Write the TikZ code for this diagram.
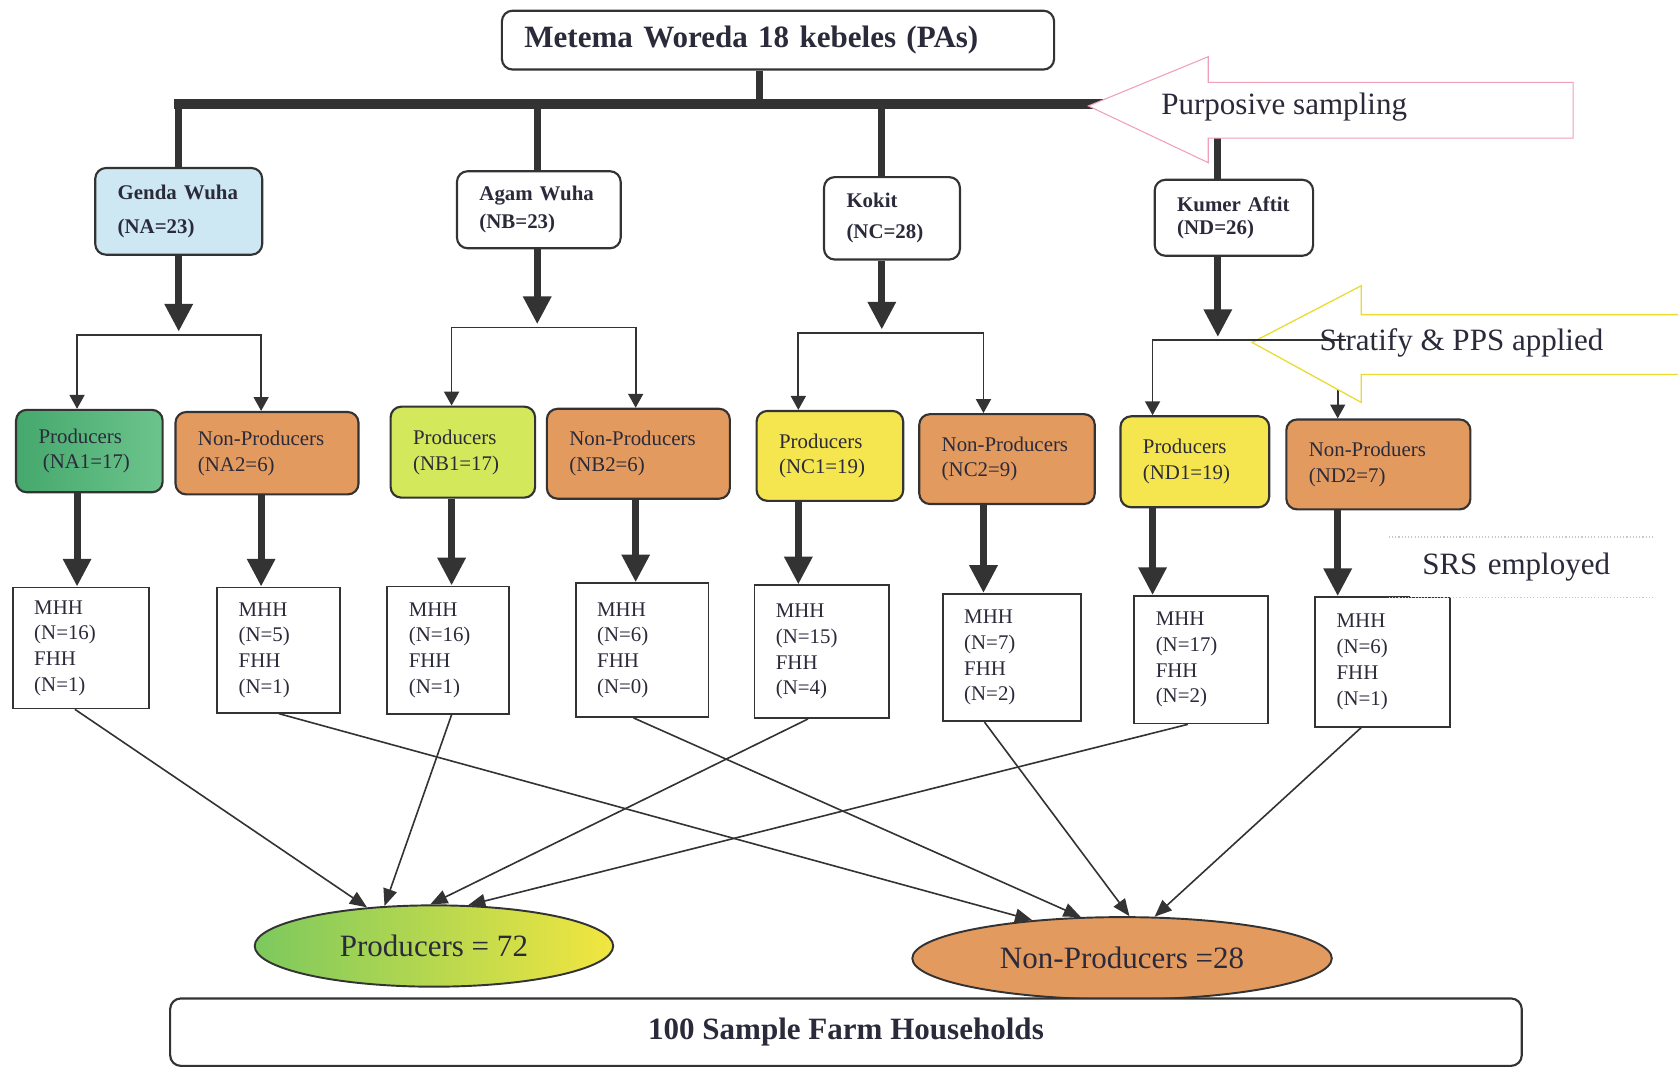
\documentclass[tikz,border=0pt]{standalone}
\usepackage{fontspec}
\setmainfont{Liberation Serif}
\usetikzlibrary{arrows.meta,shapes.geometric}
\definecolor{ink}{HTML}{2A2A3A}
\definecolor{ln}{HTML}{333333}
\definecolor{blu}{HTML}{CDE8F2}
\definecolor{grnA}{HTML}{45A86C}
\definecolor{grnB}{HTML}{6CC48C}
\definecolor{org}{HTML}{E39A5F}
\definecolor{ygr}{HTML}{D4E85C}
\definecolor{yel}{HTML}{F5E54E}
\definecolor{pnk}{HTML}{F0A0B8}
\definecolor{ylo}{HTML}{E8DC30}
\definecolor{elg}{HTML}{7CC95E}
\definecolor{ely}{HTML}{F2E640}
\definecolor{dotc}{HTML}{C8C8C8}
\begin{document}
\begin{tikzpicture}[x=1pt,y=-1pt,
 big/.style={font=\fontsize{29}{34}\selectfont},
 bigb/.style={font=\fontsize{29}{34}\selectfont\bfseries},
 sm/.style={font=\fontsize{19.5}{24}\selectfont},
 smb/.style={font=\fontsize{19.5}{24}\selectfont\bfseries},
 rbox/.style={draw=ln, line width=2pt, rounded corners=10pt, text=ink, inner xsep=21pt, inner ysep=0pt, align=left},
 sbox/.style={draw=ln, line width=1.7pt, fill=white, text=ink, inner xsep=20pt, inner ysep=0pt, align=left, sm},
 bar/.style={draw=ln, line width=9pt},
 drop/.style={draw=ln, line width=6.5pt},
 thk/.style={draw=ln, line width=6.5pt, -{Triangle[width=25pt,length=26pt]}},
 brk/.style={draw=ln, line width=1.6pt, -{Triangle[width=14pt,length=13pt]}},
 con/.style={draw=ln, line width=1.5pt, -{Triangle[width=13pt,length=16pt]}},
]
\useasboundingbox (0,0) rectangle (1568,1000);

% top
\node[rbox, bigb, fill=white, minimum width=514pt, text width=474pt, minimum height=55pt] (tb) at (727,37.5) {Metema Woreda 18 kebeles (PAs)};

% level 2
\node[rbox, smb, fill=blu, minimum width=156pt, text width=114pt, minimum height=81pt] (ga) at (167,197.5) {Genda Wuha\\[8pt](NA=23)};
\node[rbox, smb, fill=white, minimum width=153pt, text width=111pt, minimum height=72pt] (ab) at (503.5,196) {Agam Wuha\\[2pt](NB=23)};
\node[rbox, smb, fill=white, minimum width=127pt, text width=85pt, minimum height=77pt] (kk) at (833.5,204) {Kokit\\[5pt](NC=28)};
\node[rbox, smb, fill=white, minimum width=148pt, text width=106pt, minimum height=71pt] (ka) at (1153,203.5) {Kumer Aftit\\[-2pt](ND=26)};

% level 3
\node[rbox, sm, left color=grnA, right color=grnB, minimum width=137pt, text width=95pt, minimum height=77pt] (pa) at (83.5,421.5) {Producers\\\hspace*{4pt}(NA1=17)};
\node[rbox, sm, fill=org, minimum width=171pt, text width=129pt, minimum height=77pt] (na) at (249.5,423.5) {Non-Producers\\(NA2=6)};
\node[rbox, sm, fill=ygr, minimum width=135pt, text width=93pt, minimum height=85pt] (pb) at (432.5,422.5) {Producers\\(NB1=17)};
\node[rbox, sm, fill=org, minimum width=171pt, text width=129pt, minimum height=84pt] (nb) at (596.5,424) {Non-Producers\\(NB2=6)};
\node[rbox, sm, fill=yel, minimum width=137pt, text width=95pt, minimum height=84pt] (pc) at (775.5,426) {Producers\\(NC1=19)};
\node[rbox, sm, fill=org, minimum width=164pt, text width=122pt, minimum height=84pt] (nc) at (941,429) {Non-Producers\\(NC2=9)};
\node[rbox, sm, fill=yel, minimum width=139pt, text width=97pt, minimum height=85pt] (pd) at (1116.5,431.5) {Producers\\(ND1=19)};
\node[rbox, sm, fill=org, minimum width=172pt, text width=130pt, minimum height=84pt] (nd) at (1288,434) {Non-Produers\\(ND2=7)};

% level 4
\node[sbox, minimum width=127pt, text width=87pt, minimum height=113pt] (m1) at (75.5,605.5) {MHH\\(N=16)\\FHH\\(N=1)};
\node[sbox, minimum width=115pt, text width=75pt, minimum height=117pt] (m2) at (260.5,607.5) {MHH\\(N=5)\\FHH\\(N=1)};
\node[sbox, minimum width=114pt, text width=74pt, minimum height=119pt] (m3) at (419,607.5) {MHH\\(N=16)\\FHH\\(N=1)};
\node[sbox, minimum width=124pt, text width=84pt, minimum height=125pt] (m4) at (600,607.5) {MHH\\(N=6)\\FHH\\(N=0)};
\node[sbox, minimum width=126pt, text width=86pt, minimum height=124pt] (m5) at (768,609) {MHH\\(N=15)\\FHH\\(N=4)};
\node[sbox, minimum width=129pt, text width=89pt, minimum height=119pt] (m6) at (945.5,614.5) {MHH\\(N=7)\\FHH\\(N=2)};
\node[sbox, minimum width=125pt, text width=85pt, minimum height=119pt] (m7) at (1122.5,616.5) {MHH\\(N=17)\\FHH\\(N=2)};
\node[sbox, minimum width=126pt, text width=86pt, minimum height=121pt] (m8) at (1292,618.5) {MHH\\(N=6)\\FHH\\(N=1)};

% SRS label
\node[big, text=ink, fill=white, inner xsep=11pt, inner ysep=0pt, minimum width=227pt, minimum height=56pt, text width=205pt, align=left] (srs) at (1431.5,530) {SRS employed};
\draw[dotc, dotted, line width=1pt] ([xshift=-20pt]srs.north west) -- (srs.north east);
\draw[dotc, dotted, line width=1pt] ([xshift=-20pt]srs.south west) -- (srs.south east);

% ellipses and bottom
\node[ellipse, draw=ln, line width=1.8pt, left color=elg, right color=ely, minimum width=335pt, minimum height=76pt, inner sep=0pt, big, text=ink] (pe) at (405.5,884) {Producers = 72};
\node[ellipse, draw=ln, line width=1.8pt, fill=org, minimum width=392pt, minimum height=77pt, inner sep=0pt, big, text=ink] (ne) at (1048.5,895.5) {Non-Producers =28};
\node[rbox, bigb, fill=white, minimum width=1263pt, minimum height=63pt, align=center] (bt) at (790.5,964.5) {100 Sample Farm Households};

% bar and drops
\coordinate (jL) at (167,97);
\coordinate (jT) at (710,97);
\coordinate (jB) at (502,97);
\coordinate (jC) at (824,97);
\coordinate (jD) at (1138,97);
\draw[drop] (jT |- tb.south) -- (jT);
\draw[bar, line cap=rect] (jL) -- (jD);
\draw[drop] (jL) -- (ga.north);
\draw[drop] (jB) -- (jB |- ab.north);
\draw[drop] (jC) -- (jC |- kk.north);
\draw[drop] (jD) -- (jD |- ka.north);

% purposive arrow
\draw[draw=pnk, line width=1pt, fill=white] (1017,99) -- (1129,53) -- (1129,77) -- (1470,77) -- (1470,129) -- (1129,129) -- (1129,152) -- cycle;
\node[big, text=ink, anchor=west, inner sep=0pt] (pur) at (1085,100) {Purposive sampling};

% level 2 -> brackets
\coordinate (bA) at (167,313);
\coordinate (bB) at (502,306);
\coordinate (bC) at (824,311);
\coordinate (bD) at (1138,318);
\coordinate (sx) at (1258,318);
\draw[thk, shorten >=3pt] (ga.south) -- (bA);
\draw[thk, shorten >=3pt] (jB |- ab.south) -- (bB);
\draw[thk, shorten >=3pt] (jC |- kk.south) -- (bC);
\draw[thk, shorten >=3pt] (jD |- ka.south) -- (bD);

\draw[brk] (bA) -| ([xshift=-11.5pt]pa.north);
\draw[brk] (bA) -| ([xshift=-5.5pt]na.north);
\draw[brk] (bB) -| ([xshift=-10.5pt]pb.north);
\draw[brk] (bB) -| ([xshift=-2.5pt]nb.north);
\draw[brk] (bC) -| ([xshift=-29.5pt]pc.north);
\draw[brk] (bC) -| ([xshift=-22pt]nc.north);
\draw[brk] (bD) -| ([xshift=-39.5pt]pd.north);
\draw[brk] (bD) -| ([xshift=-38pt]nd.north);

% stratify arrow
\draw[draw=ylo, line width=1.2pt, fill=white] (1568,294) -- (1272,294) -- (1272,267) -- (1170,320) -- (1272,376) -- (1272,350) -- (1568,350);
\draw[draw=ln, line width=1.6pt] (bD) -- (sx);
\node[big, text=ink, anchor=west, inner sep=0pt] (str) at (1233,320) {Stratify \& PPS applied};

% level 3 -> level 4
\draw[thk] ([xshift=-11.5pt]pa.south) -- ([xshift=-11.5pt]pa.south |- m1.north);
\draw[thk] ([xshift=-5.5pt]na.south) -- ([xshift=-5.5pt]na.south |- m2.north);
\draw[thk] ([xshift=-10.5pt]pb.south) -- ([xshift=-10.5pt]pb.south |- m3.north);
\draw[thk] ([xshift=-2.5pt]nb.south) -- ([xshift=-2.5pt]nb.south |- m4.north);
\draw[thk] ([xshift=-29.5pt]pc.south) -- ([xshift=-29.5pt]pc.south |- m5.north);
\draw[thk] ([xshift=-22pt]nc.south) -- ([xshift=-22pt]nc.south |- m6.north);
\draw[thk] ([xshift=-39.5pt]pd.south) -- ([xshift=-39.5pt]pd.south |- m7.north);
\draw[thk] ([xshift=-38pt]nd.south) -- ([xshift=-38pt]nd.south |- m8.north);

% level 4 -> totals
\draw[con] ([xshift=-5.5pt]m1.south) -- (pe.150.1);
\draw[con] ([xshift=3pt]m3.south) -- (pe.141.2);
\draw[con] ([xshift=-13pt]m5.south) -- (pe.95.3);
\draw[con] ([xshift=-12.5pt]m7.south) -- (pe.50.8);
\draw[con] (m2.south) -- (ne.157.4);
\draw[con] ([xshift=-8pt]m4.south) -- (ne.135.6);
\draw[con] ([xshift=-25.5pt]m6.south) -- (ne.80.4);
\draw[con] ([xshift=-20pt]m8.south) -- (ne.52.7);
\end{tikzpicture}
\end{document}
